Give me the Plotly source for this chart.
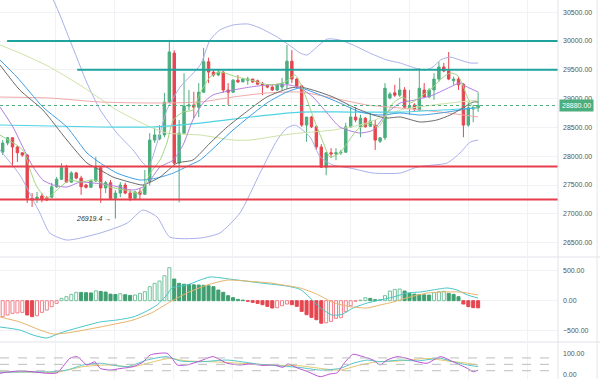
import plotly.graph_objects as go
from plotly.subplots import make_subplots

# ---------------- candles (index 0..97) ----------------
opens = [28070, 28230, 28320, 28160, 28060, 28020, 27270, 27260, 27310, 27270,
         27290, 27470, 27600, 27800, 27550, 27710, 27620, 27500, 27460, 27570,
         27800, 27450, 27540, 27270, 27360, 27500, 27360, 27270, 27380, 27340,
         27560, 28280, 28300, 28370, 28940, 29790, 27880, 28400, 28870, 28890,
         28850, 29110, 29640, 29460, 29410, 29460, 29150, 29110, 29320, 29290,
         29320, 29340, 29310, 29250, 29240, 29200, 29150, 29200, 29260, 29650,
         29340, 29220, 28540, 28680, 28510, 28160, 27810, 28060, 28040, 28060,
         28070, 28510, 28680, 28510, 28660, 28520, 28540, 28260, 28320, 29010,
         29100, 29060, 29150, 28840, 28890, 28800, 29150, 29030, 29150, 29340,
         29550, 29480, 29310, 29340, 29250, 28540, 28820, 28840]
closes = [28230, 28320, 28160, 28060, 28020, 27270, 27240, 27290, 27260, 27240,
          27470, 27600, 27800, 27550, 27710, 27620, 27470, 27460, 27570, 27800,
          27450, 27540, 27270, 27360, 27500, 27360, 27270, 27380, 27340, 27500,
          28280, 28370, 28370, 28940, 29810, 27880, 28400, 28870, 28890, 28850,
          29110, 29640, 29460, 29410, 29460, 29150, 29110, 29320, 29290, 29340,
          29340, 29290, 29250, 29240, 29200, 29150, 29240, 29260, 29650, 29340,
          29220, 28540, 28680, 28510, 28160, 27810, 28060, 28040, 28060, 28070,
          28510, 28680, 28630, 28660, 28510, 28610, 28280, 28320, 29180, 29080,
          29060, 29150, 28850, 28870, 28820, 29180, 29030, 29150, 29340, 29550,
          29480, 29340, 29340, 29240, 28540, 28840, 28840, 28880]
highs = [28280, 28330, 28330, 28180, 28070, 28040, 27360, 27380, 27360, 27310,
         27540, 27640, 27880, 27850, 27740, 27730, 27660, 27520, 27600, 27990,
         27820, 27570, 27590, 27410, 27550, 27540, 27410, 27400, 27450, 27760,
         28400, 28490, 28540, 29100, 30020, 29840, 28630, 29440, 29150, 29120,
         29270, 29880, 29710, 29500, 29500, 29480, 29270, 29340, 29410, 29360,
         29380, 29340, 29330, 29290, 29250, 29240, 29260, 29360, 29930, 29840,
         29360, 29240, 28680, 28700, 28540, 28210, 28070, 28140, 28140, 28110,
         28580, 28850, 28850, 28720, 28680, 28750, 28630, 28330, 29270, 29110,
         29240, 29360, 29200, 29150, 28920, 29530, 29270, 29180, 29440, 29640,
         29620, 29810, 29380, 29380, 29270, 28940, 28890, 29110]
lows = [28020, 28190, 27810, 27900, 27990, 27190, 27120, 27190, 27200, 27220,
        27270, 27450, 27590, 27540, 27540, 27600, 27330, 27440, 27450, 27550,
        27190, 27360, 27240, 26919.4, 27290, 27340, 27220, 27240, 27240, 27330,
        27490, 28230, 28280, 28330, 28920, 27850, 27200, 28390, 28800, 28660,
        28680, 29100, 29270, 29380, 29390, 29100, 28890, 29100, 29270, 29290,
        29240, 29270, 29240, 29060, 29180, 29130, 29130, 29150, 29170, 29270,
        29180, 28510, 28250, 28490, 28110, 27800, 27670, 27970, 27930, 28020,
        28060, 28490, 28590, 28330, 28500, 28510, 28110, 28230, 28280, 28990,
        29030, 29030, 28840, 28720, 28770, 28800, 29010, 29010, 28980, 29290,
        29460, 29320, 29240, 29150, 28330, 28510, 28590, 28770]
bars = list(range(len(closes)))

# ---------------- overlay lines (bar index, price) ----------------
fast_x = [-0.55, 4.1, 5.6, 7.0, 9.0, 11.7, 13.7, 15.8, 18.8, 21.9, 25.0, 28.0, 30.1, 32.1, 33.5, 34.8, 36.8, 38.8, 40.3, 42.3,
          44.3, 47.8, 50.5, 54.5, 57.6, 59.7, 61.1, 62.1, 64.1, 65.2, 66.8, 68.8, 70.3, 72.3, 74.9, 76.6, 78.0, 79.7, 81.7,
          83.1, 85.2, 87.8, 89.9, 91.3, 92.7, 93.7, 94.8, 96.0, 97.0]
fast_y = [28368, 28108, 27761, 27465, 27274, 27465, 27587, 27552, 27587, 27465, 27413, 27361, 27708, 27934, 28229, 28629, 28767,
          28802, 29097, 29375, 29462, 29375, 29323, 29236, 29288, 29410, 29184, 28976, 28507, 28281, 27986, 28056, 28229, 28455,
          28576, 28507, 28681, 28924, 29028, 28924, 29028, 29201, 29375, 29444, 29410, 29271, 29028, 28854, 28837]
purple_x = [-0.55, 2.1, 4.1, 6.2, 8.2, 10.3, 13.1, 15.8, 18.4, 21.9, 26.6, 28.6, 30.1, 32.1, 34.8, 36.8, 38.8, 40.9, 42.9,
            47.0, 50.5, 53.9, 58.6, 60.7, 63.3, 66.2, 68.8, 72.9, 75.6, 78.4, 81.1, 84.1, 87.8, 91.3, 93.3, 94.8, 97.0]
purple_y = [28854, 28507, 28160, 27813, 27587, 27500, 27465, 27552, 27535, 27500, 27413, 27465, 27587, 27813, 27934, 28195,
            28629, 28924, 29063, 29149, 29201, 29236, 29236, 29184, 29028, 28750, 28507, 28403, 28455, 28750, 28924, 28976,
            29063, 29201, 29271, 29201, 29115]
gray_x = [-0.55, 3.5, 8.2, 13.1, 17.2, 19.9, 22.5, 26.6, 28.6, 32.1, 35.6, 38.8, 42.3, 45.8, 49.4, 53.9, 58.6, 60.7, 63.3,
          67.4, 71.5, 75.6, 78.4, 81.1, 85.2, 88.6, 91.3, 93.9, 96.0, 97.0]
gray_y = [29583, 29149, 28802, 28281, 27882, 27761, 27639, 27535, 27500, 27639, 27882, 27934, 28229, 28507, 28750, 29028,
          29184, 29201, 29149, 29028, 28854, 28715, 28663, 28681, 28594, 28629, 28715, 28837, 28941, 28941]
blue_x = [-0.55, 2.9, 8.2, 13.1, 17.2, 19.9, 23.3, 28.0, 31.5, 34.8, 38.2, 40.3, 47.0, 53.9, 58.0, 60.7, 64.8, 68.8, 72.9,
          77.0, 81.1, 85.2, 89.3, 93.3, 97.0]
blue_y = [29670, 29375, 28854, 28507, 28056, 27882, 27708, 27587, 27622, 27708, 27847, 27934, 28455, 28924, 29115, 29184,
          29063, 28924, 28767, 28715, 28750, 28715, 28750, 28802, 28854]
cyan_x = [-0.55, 19.9, 30.1, 40.3, 50.5, 60.7, 70.9, 81.1, 97.0]
cyan_y = [28542, 28507, 28507, 28576, 28681, 28767, 28767, 28767, 28837]
pink_x = [-0.55, 9.6, 19.9, 30.1, 40.3, 47.0, 53.9, 60.7, 67.4, 74.4, 81.1, 89.3, 97.0]
pink_y = [29028, 29010, 28941, 28924, 28941, 29028, 29097, 29115, 29010, 28889, 28837, 28767, 28681]
slow_x = [-0.55, 3.5, 9.6, 16.4, 23.3, 30.1, 33.5, 40.3, 47.0, 50.5, 57.2, 60.7, 67.4, 72.9, 77.6, 81.1, 87.8, 97.0]
slow_y = [29931, 29792, 29549, 29201, 28802, 28507, 28403, 28368, 28281, 28281, 28368, 28403, 28455, 28542, 28681, 28802,
          28889, 28976]
bb_up_x = [-0.55, 4.6, 10.3, 13.7, 17.2, 19.9, 23.3, 26.6, 28.6, 29.7, 31.5, 33.5, 36.2, 40.3, 42.3, 44.3, 47.0, 50.1, 52.5,
           56.0, 59.0, 60.7, 62.1, 64.1, 66.2, 68.8, 71.5, 74.9, 78.4, 81.1, 84.1, 86.2, 87.8, 89.3, 91.3, 93.3, 95.4, 97.0]
bb_up_y = [32200, 31400, 30712, 30017, 29271, 28802, 28403, 28108, 27882, 27813, 28229, 28802, 29201, 29583, 30017, 30191,
           30278, 30295, 30226, 30069, 29896, 29792, 29757, 29896, 30035, 30017, 29931, 29792, 29670, 29618, 29531, 29497,
           29549, 29670, 29722, 29670, 29618, 29618]
bb_lo_x = [-0.55, 3.5, 6.2, 7.6, 9.6, 13.1, 19.9, 25.4, 28.6, 31.5, 34.1, 40.3, 44.3, 48.4, 52.5, 56.0, 58.0, 59.7, 62.7,
           64.8, 67.4, 70.9, 75.6, 81.1, 84.6, 87.8, 90.7, 93.3, 95.4, 97.0]
bb_lo_y = [28108, 27674, 27240, 27014, 26667, 26545, 26667, 26840, 27066, 26945, 26597, 26580, 26667, 27014, 27708, 28281,
           28490, 28540, 28334, 27986, 27847, 27795, 27708, 27708, 27813, 27847, 27882, 28056, 28247, 28281]

# horizontal levels
resist_hi, resist_hi_from = 30000, 0.9
resist_lo, resist_lo_from = 29500, 15.2
support_hi = 27820
support_lo = 27250
low_label = "26919.4"
low_bar = 23

# ---------------- MACD ----------------
hist = [-268, -240, -212, -205, -196, -240, -268, -252, -196, -157,
        -100, -45, 39, 67, 106, 140, 138, 134, 130, 165,
        155, 145, 110, 104, 117, 100, 88, 95, 123, 151,
        235, 291, 330, 419, 553, 363, 291, 276, 272, 266,
        262, 258, 250, 235, 179, 140, 84, 50, 22, 10,
        -11, -28, -45, -67, -95, -123, -118, -84, -56, -67,
        -95, -179, -235, -280, -319, -378, -372, -347, -296, -285,
        -184, -84, -8, 8, 50, 39, 17, 20, 84, 162,
        190, 196, 162, 123, 110, 102, 98, 94, 135, 150,
        158, 123, 106, 67, -56, -100, -117, -120]
macd_x = [-0.55, 3.5, 6.2, 9.0, 11.7, 15.2, 19.9, 23.3, 26.6, 28.6, 31.5, 33.5, 34.5, 37.6, 40.3, 42.3, 47.0, 53.9, 58.0,
          60.7, 62.7, 64.8, 67.2, 69.2, 71.5, 74.4, 77.0, 79.7, 82.5, 85.2, 87.8, 90.7, 92.7, 94.8, 97.0]
macd_y = [-441, -492, -576, -626, -542, -458, -357, -324, -274, -206, -72, 96, 213, 263, 347, 398, 355, 285, 245, 190, 50,
          -120, -240, -230, -122, -39, 12, 62, 129, 146, 180, 213, 180, 96, 45]
signal_x = [-0.55, 3.5, 7.6, 10.3, 13.1, 19.9, 26.6, 30.7, 34.1, 37.6, 41.7, 45.8, 51.1, 54.6, 57.2, 60.7, 64.1, 67.4, 70.9,
            74.4, 77.0, 79.7, 83.1, 86.6, 89.9, 93.3, 97.0]
signal_y = [-274, -357, -492, -559, -542, -441, -324, -190, -22, 129, 263, 345, 320, 297, 263, 213, 110, -30, -100, -122,
            -72, -22, 62, 129, 146, 146, 96]

# ---------------- Stochastic pane ----------------
k_x = [-0.55, 1.5, 3.5, 6.2, 9.0, 11.1, 12.3, 13.7, 15.2, 17.2, 18.8, 19.9, 21.9, 23.9, 26.6, 28.6, 30.1, 33.5, 34.5, 35.6,
       37.6, 40.3, 42.9, 45.8, 48.4, 50.5, 53.1, 55.2, 57.2, 58.2, 60.1, 62.1, 64.8, 66.8, 68.2, 69.9, 71.5, 73.5, 75.6,
       77.0, 78.4, 80.5, 82.5, 84.6, 86.6, 89.3, 91.9, 94.8, 96.0, 97.0]
k_y = [8, 15, 19, 15, 8, 10, 40, 78, 86, 47, 62, 31, 23, 30, 39, 60, 94, 102, 80, 47, 47, 66, 86, 55, 47, 52, 45, 48, 36,
       52, 33, 17, -8, 5, 10, 62, 97, 86, 70, 47, 70, 86, 78, 62, 55, 86, 62, 31, 15, 23]
d_x = [-0.55, 6.2, 9.7, 13.1, 16.4, 19.9, 25.4, 29.4, 33.5, 36.2, 40.3, 45.8, 52.5, 60.7, 64.8, 68.8, 71.5, 74.4, 77.0,
       81.1, 84.6, 89.3, 91.9, 94.8, 97.0]
d_y = [13, 15, 15, 23, 47, 55, 39, 70, 86, 66, 62, 70, 50, 35, 23, 31, 55, 70, 62, 70, 66, 78, 62, 47, 39]
s_x = [-0.55, 6.2, 11.1, 16.4, 21.3, 26.6, 30.7, 34.1, 37.6, 42.9, 48.4, 53.9, 60.7, 64.8, 68.8, 72.9, 76.4, 81.1, 86.6,
       90.7, 94.8, 97.0]
s_y = [15, 13, 13, 39, 47, 39, 62, 78, 66, 62, 55, 47, 43, 31, 23, 47, 62, 66, 78, 66, 55, 47]
stoch_levels = [80, 50, 20]

price_ticks = [26500, 27000, 27500, 28000, 28500, 29000, 29500, 30000, 30500]
macd_ticks = [-500, 0, 500]
stoch_ticks = [0, 100]

# ---------------- styling ----------------
UP, DOWN = "#4cad7e", "#e5464f"
W, H = 600, 379
XMIN, XMAX = -0.55, 113.3
FONT = dict(family="Liberation Sans, Arial, sans-serif", size=7, color="#555555")

fig = make_subplots(rows=3, cols=1, shared_xaxes=True, vertical_spacing=0.0)


def line(x, y, color, row=1, width=1.0, dash=None):
    fig.add_trace(go.Scatter(x=x, y=y, mode="lines", line=dict(color=color, width=width, shape="spline",
                                                                 smoothing=0.6, dash=dash),
                             hoverinfo="skip", showlegend=False), row=row, col=1)


line(bb_up_x, bb_up_y, "#a9b1ea")
line(bb_lo_x, bb_lo_y, "#a9b1ea")
line(slow_x, slow_y, "#cde3a6")
line(pink_x, pink_y, "#f1a9a9")
line(cyan_x, cyan_y, "#4fd3e3", width=1.2)
line(blue_x, blue_y, "#3f9fe6")
line(gray_x, gray_y, "#6a6a6a")
line(purple_x, purple_y, "#b27ede")
line(fast_x, fast_y, "#9fd57e")

fig.add_trace(go.Candlestick(x=bars, open=opens, high=highs, low=lows, close=closes,
                             increasing=dict(line=dict(color=UP, width=1), fillcolor=UP),
                             decreasing=dict(line=dict(color=DOWN, width=1), fillcolor=DOWN),
                             whiskerwidth=0, showlegend=False, hoverinfo="skip"), row=1, col=1)

# MACD histogram, colour from direction of change
fills, edges = [], []
for i, v in enumerate(hist):
    prev = hist[i - 1] if i > 0 else v
    if v >= 0:
        if v > prev or i == 0:
            fills.append("#ffffff"); edges.append("#72c29b")
        else:
            fills.append("#3f9f70"); edges.append("#3f9f70")
    else:
        if v < prev:
            fills.append(DOWN); edges.append(DOWN)
        else:
            fills.append("#ffffff"); edges.append("#ef7f88")
fig.add_trace(go.Bar(x=bars, y=hist, width=0.62, marker=dict(color=fills, line=dict(color=edges, width=1)),
                     showlegend=False, hoverinfo="skip"), row=2, col=1)
line(macd_x, macd_y, "#48c6c9", row=2)
line(signal_x, signal_y, "#e6b46c", row=2)

line(s_x, s_y, "#e3c86c", row=3)
line(d_x, d_y, "#55c6c8", row=3)
line(k_x, k_y, "#bb52d6", row=3)

shapes = []
shapes.append(dict(type="line", xref="x", yref="y", x0=resist_hi_from, x1=XMAX, y0=resist_hi, y1=resist_hi,
                   line=dict(color="#1fa39f", width=2)))
shapes.append(dict(type="line", xref="x", yref="y", x0=resist_lo_from, x1=XMAX, y0=resist_lo, y1=resist_lo,
                   line=dict(color="#1fa39f", width=2)))
for lvl in (support_hi, support_lo):
    shapes.append(dict(type="line", xref="x", yref="y", x0=XMIN, x1=XMAX, y0=lvl, y1=lvl,
                       line=dict(color="#e63e4b", width=2)))
shapes.append(dict(type="line", xref="x", yref="y", x0=XMIN, x1=XMAX, y0=closes[-1], y1=closes[-1],
                   line=dict(color=UP, width=1, dash="dot")))
for lvl in stoch_levels:
    shapes.append(dict(type="line", xref="x3", yref="y3", x0=XMIN, x1=XMAX, y0=lvl, y1=lvl,
                       line=dict(color="#bdbdbd", width=1, dash="dash")))
for yp in (1 - 257 / H, 1 - 342 / H):
    shapes.append(dict(type="line", xref="paper", yref="paper", x0=0, x1=W / 558, y0=yp, y1=yp,
                       line=dict(color="#e0e3eb", width=1)))
shapes.append(dict(type="line", xref="paper", yref="paper", x0=1, x1=1, y0=0, y1=1,
                   line=dict(color="#e0e3eb", width=1)))
shapes.append(dict(type="line", xref="paper", yref="paper", x0=597 / 558, x1=597 / 558, y0=0, y1=1,
                   line=dict(color="#e6e6e6", width=1)))

annotations = [
    dict(x=1.0, xref="paper", y=closes[-1], yref="y", xanchor="left", yanchor="middle", xshift=1,
         text=f"{closes[-1]:.2f}", showarrow=False, bgcolor=UP, borderpad=2,
         font=dict(family=FONT["family"], size=7, color="#ffffff")),
    dict(x=low_bar - 0.4, xref="x", y=min(lows), yref="y", xanchor="right", yanchor="middle",
         text="<i>" + low_label + "</i> \u2192", showarrow=False,
         font=dict(family=FONT["family"], size=7, color="#333333")),
]

fig.update_layout(
    width=W, height=H, margin=dict(l=0, r=42, t=0, b=0, pad=0),
    paper_bgcolor="#ffffff", plot_bgcolor="#ffffff", showlegend=False,
    font=FONT, shapes=shapes, annotations=annotations, bargap=0,
)
grid = "#f0f2f5"
for ax in ("xaxis", "xaxis2", "xaxis3"):
    fig.layout[ax].update(range=[XMIN, XMAX], showticklabels=False, ticks="", showgrid=True, gridcolor=grid,
                          tick0=10.7, dtick=12.05, zeroline=False, showline=False, rangeslider=dict(visible=False))
common = dict(side="right", tickformat=".2f", zeroline=False, ticks="", ticklen=0, showline=False,
              ticklabelstandoff=4)
fig.update_layout(
    yaxis=dict(domain=[1 - 256 / H, 1], range=[26268, 30712], tickvals=price_ticks,
               showgrid=True, gridcolor=grid, **common),
    yaxis2=dict(domain=[1 - 341 / H, 1 - 258 / H], range=[-676, 716], tickvals=macd_ticks,
                showgrid=True, gridcolor=grid, **common),
    yaxis3=dict(domain=[0, 1 - 343 / H], range=[-18.8, 150], tickvals=stoch_ticks,
                showgrid=False, **common),
)

fig.write_html("out.html", config={"displayModeBar": False, "staticPlot": True},
               post_script="document.body.style.margin='0';")
